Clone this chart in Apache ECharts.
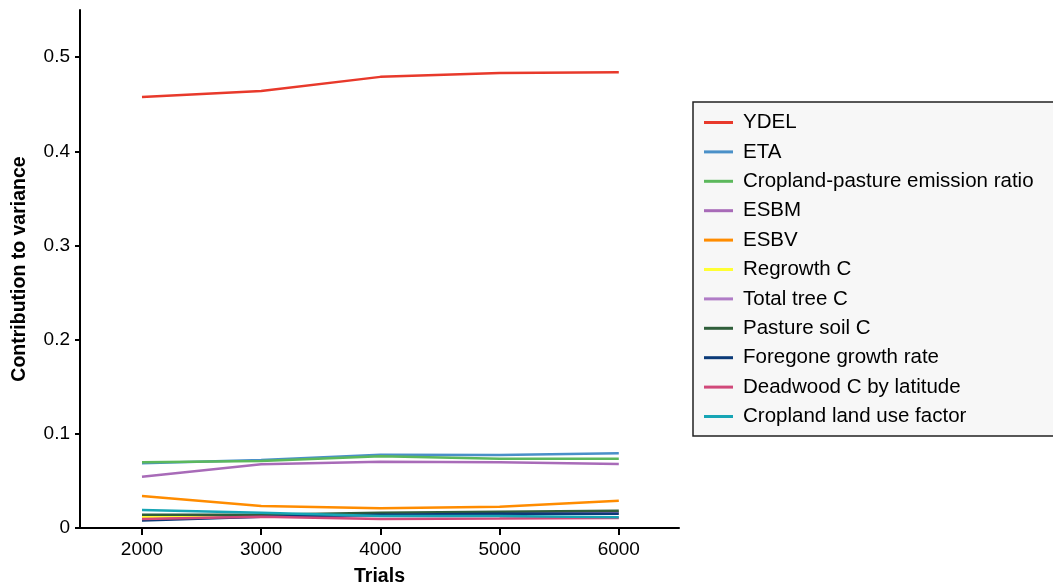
<!DOCTYPE html>
<html>
<head>
<meta charset="utf-8">
<script src="https://cdn.jsdelivr.net/npm/echarts@6/dist/echarts.min.js"></script>
<style>html,body{margin:0;padding:0;background:#fff}#c{width:1053px;height:588px}</style>
</head>
<body>
<div id="c"></div>
<script>
const trials = [2000, 3000, 4000, 5000, 6000];
const yTicks = [0, 0.1, 0.2, 0.3, 0.4, 0.5];
const names = ["YDEL", "ETA", "Cropland-pasture emission ratio", "ESBM", "ESBV", "Regrowth C", "Total tree C", "Pasture soil C", "Foregone growth rate", "Deadwood C by latitude", "Cropland land use factor"];
const colors = ["#e8392b", "#4a90c8", "#5cb85c", "#a86bb8", "#ff8c00", "#ffff33", "#b07cc6", "#2f5e3a", "#0b3a78", "#d1497a", "#17a5b5"];
const ydel = [0.4575, 0.464, 0.479, 0.483, 0.484];
const eta = [0.0687, 0.0722, 0.0778, 0.0775, 0.0793];
const cropPasture = [0.0697, 0.0711, 0.0761, 0.0736, 0.0736];
const esbm = [0.0545, 0.0676, 0.0704, 0.0697, 0.068];
const esbv = [0.034, 0.0233, 0.021, 0.0226, 0.029];
const regrowth = [0.0117, 0.013, 0.014, 0.015, 0.016];
const totalTree = [0.009, 0.012, 0.013, 0.015, 0.017];
const pastureSoil = [0.014, 0.014, 0.0163, 0.0173, 0.0184];
const foregone = [0.008, 0.012, 0.014, 0.015, 0.015];
const deadwood = [0.0096, 0.012, 0.0096, 0.010, 0.0105];
const croplandLUF = [0.0191, 0.0163, 0.0127, 0.0127, 0.0113];
const seriesValues = [ydel, eta, cropPasture, esbm, esbv, regrowth, totalTree, pastureSoil, foregone, deadwood, croplandLUF];

const font = "'Liberation Sans', Arial, Helvetica, sans-serif";
const chart = echarts.init(document.getElementById('c'));
chart.setOption({
  animation: false,
  textStyle: { fontFamily: font },
  grid: { left: 80, right: 374, top: 10, bottom: 60, containLabel: false, outerBoundsMode: 'none' },
  xAxis: {
    type: 'value', min: 1480, max: 6505,
    name: 'Trials', nameLocation: 'middle', nameGap: 39,
    nameTextStyle: { fontSize: 19.5, fontWeight: 'bold', color: '#000', fontFamily: font },
    splitLine: { show: false },
    axisLine: { lineStyle: { color: '#000', width: 2 } },
    axisTick: { customValues: trials, length: 7, lineStyle: { color: '#000', width: 2 } },
    axisLabel: { customValues: trials, fontSize: 19, color: '#000', margin: 12, fontFamily: font,
      formatter: v => String(v) }
  },
  yAxis: {
    type: 'value', min: 0, max: 0.55,
    name: 'Contribution to variance', nameLocation: 'middle', nameGap: 50,
    nameTextStyle: { fontSize: 19.5, fontWeight: 'bold', color: '#000', fontFamily: font },
    splitLine: { show: false },
    axisLine: { show: true, lineStyle: { color: '#000', width: 2 } },
    axisTick: { show: true, customValues: yTicks, length: 5, lineStyle: { color: '#000', width: 2 } },
    axisLabel: { customValues: yTicks, fontSize: 19, color: '#000', margin: 10, fontFamily: font,
      formatter: v => String(v) }
  },
  legend: {
    orient: 'vertical', left: 693, top: 102,
    backgroundColor: '#f7f7f7', borderColor: '#222', borderWidth: 1.5, borderRadius: 0,
    padding: [10, 60, 9, 11],
    itemWidth: 29, itemHeight: 3, itemGap: 8.4, icon: 'rect',
    textStyle: { fontSize: 20.5, color: '#000', lineHeight: 20, fontFamily: font, padding: [0, 0, 0, 5] },
    data: names
  },
  series: names.map((n, i) => ({
    name: n, type: 'line', showSymbol: false, symbol: 'none',
    color: colors[i],
    lineStyle: { width: 2.5, color: colors[i] },
    data: trials.map((t, j) => [t, seriesValues[i][j]])
  }))
});
</script>
</body>
</html>
